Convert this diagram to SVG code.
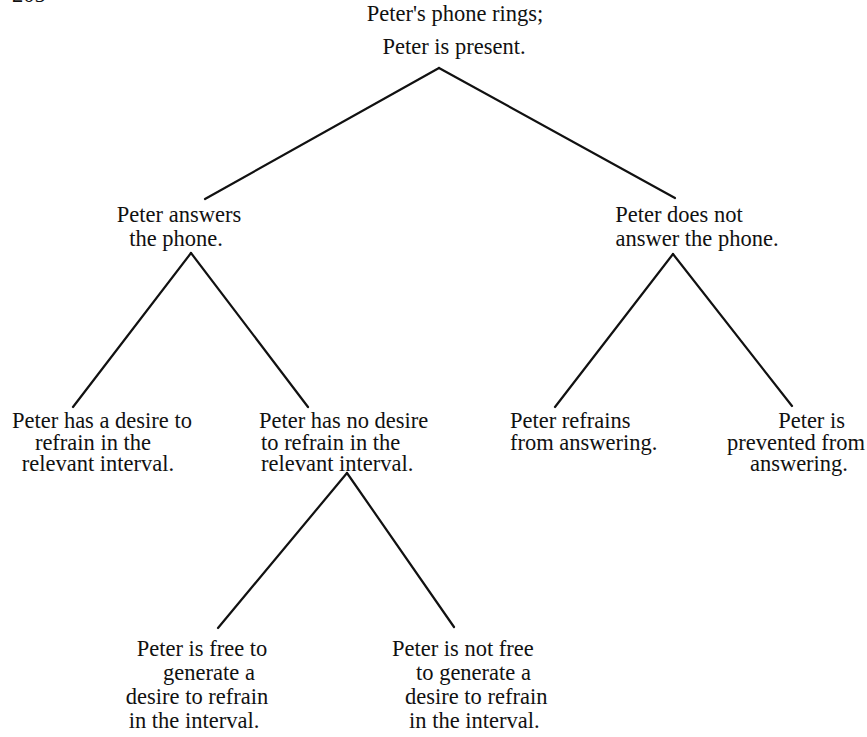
<svg xmlns="http://www.w3.org/2000/svg" width="867" height="737" viewBox="0 0 867 737">
<style>
text{font-family:"Liberation Serif","Times New Roman",serif;font-size:22.5px;fill:#111}
.c{text-anchor:middle}
.r{text-anchor:end}
.e line{stroke:#111;stroke-width:2.2;stroke-linecap:round}
</style>
<rect width="867" height="737" fill="#fff"/>
<text x="12" y="2">205</text>
<g id="connectors" class="e">
<line x1="439" y1="68" x2="205" y2="199"/>
<line x1="439" y1="68" x2="675" y2="198"/>
<line x1="191" y1="253" x2="73" y2="407"/>
<line x1="191" y1="253" x2="308" y2="407"/>
<line x1="673" y1="254" x2="555" y2="407"/>
<line x1="673" y1="254" x2="792" y2="406"/>
<line x1="347" y1="473" x2="218" y2="628"/>
<line x1="347" y1="473" x2="454" y2="627"/>
</g>
<g id="root"><text class="c" x="455" y="21">Peter's phone rings;</text><text class="c" x="454" y="54">Peter is present.</text></g>
<g id="answers"><text class="c" x="179" y="222">Peter answers</text><text class="c" x="176" y="246">the phone.</text></g>
<g id="not-answer"><text class="c" x="679" y="222">Peter does not</text><text class="c" x="697" y="246">answer the phone.</text></g>
<g id="desire"><text class="c" x="102" y="428">Peter has a desire to</text><text class="c" x="93" y="450">refrain in the</text><text class="c" x="98" y="471">relevant interval.</text></g>
<g id="no-desire"><text x="259" y="428">Peter has no desire</text><text x="261" y="450">to refrain in the</text><text x="261" y="471">relevant interval.</text></g>
<g id="refrains"><text x="510" y="428">Peter refrains</text><text x="510" y="450">from answering.</text></g>
<g id="prevented"><text class="r" x="845" y="428">Peter is</text><text class="r" x="865" y="450">prevented from</text><text class="r" x="848" y="471">answering.</text></g>
<g id="free"><text class="c" x="202" y="656">Peter is free to</text><text class="c" x="209" y="680">generate a</text><text class="c" x="197" y="704">desire to refrain</text><text class="c" x="194" y="728">in the interval.</text></g>
<g id="not-free"><text x="392" y="656">Peter is not free</text><text x="416" y="680">to generate a</text><text x="405" y="704">desire to refrain</text><text x="409" y="728">in the interval.</text></g>
</svg>
